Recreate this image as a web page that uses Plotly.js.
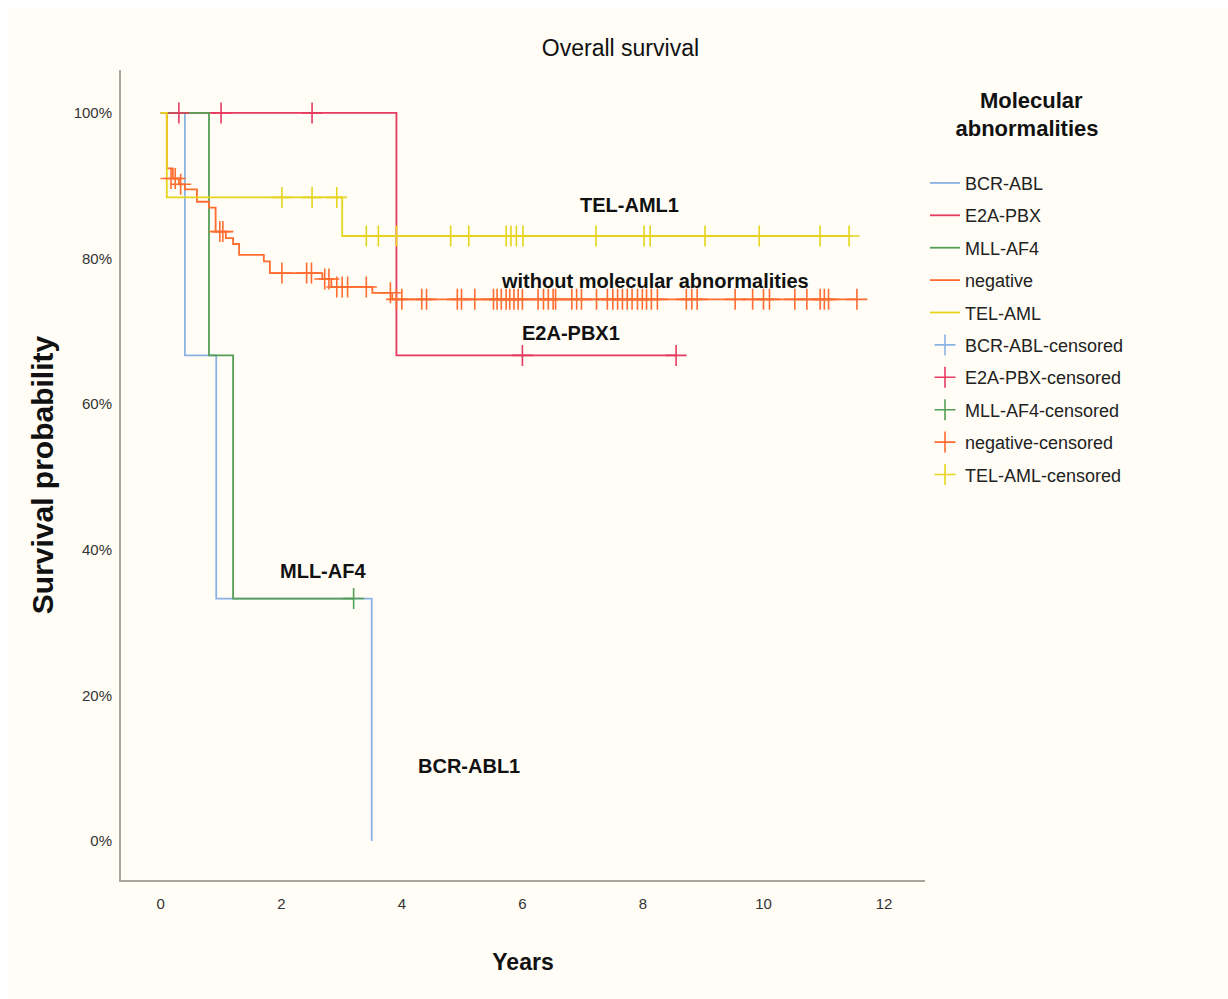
<!DOCTYPE html>
<html>
<head>
<meta charset="utf-8">
<script src="https://cdn.plot.ly/plotly-3.0.1.min.js"></script>
<style>
  html, body { margin: 0; padding: 0; background: #ffffff; }
  #chart { position: absolute; left: 8px; top: 8px; width: 1220px; height: 991px; }
</style>
</head>
<body>
<div id="chart"></div>
<script>
// ---- data (years, survival fraction) ----
const bcrX = [0, 0.4, 0.92, 3.5];
const bcrY = [1, 0.667, 0.333, 0];
const bcrCensX = [null];   // no censored BCR-ABL cases (legend entry only)
const bcrCensY = [null];

const e2aX = [0, 3.91, 8.55];
const e2aY = [1, 0.667, 0.667];
const e2aCensX = [0.3, 1.0, 2.51, 6.0, 8.55];
const e2aCensY = [1, 1, 1, 0.667, 0.667];

const mllX = [0, 0.8, 1.2, 3.2];
const mllY = [1, 0.667, 0.333, 0.333];
const mllCensX = [3.2];
const mllCensY = [0.333];

const negX = [0, 0.1, 0.2, 0.3, 0.4, 0.6, 0.8, 0.91, 1.08, 1.2, 1.3, 1.71, 1.81, 2.68, 2.83, 3.51, 3.84, 11.55];
const negY = [1, 0.924, 0.910, 0.902, 0.895, 0.878, 0.870, 0.837, 0.828, 0.820, 0.805, 0.796, 0.780, 0.772, 0.761, 0.753, 0.744, 0.744];
const negCensX = [0.17, 0.24, 0.33, 0.98, 1.03, 2.01, 2.42, 2.5, 2.72, 2.79, 2.92, 3.01, 3.1, 3.41, 3.81,
  3.91, 4.0, 4.33, 4.41, 4.92, 4.99, 5.21, 5.52, 5.58, 5.65, 5.73, 5.79, 5.86, 5.93, 6.0, 6.26, 6.35, 6.43,
  6.51, 6.55, 6.82, 6.9, 6.98, 7.23, 7.41, 7.5, 7.58, 7.66, 7.74, 7.82, 7.91, 7.99, 8.06, 8.14, 8.24, 8.72,
  8.81, 8.9, 9.53, 9.82, 10.0, 10.1, 10.52, 10.72, 10.94, 11.01, 11.08, 11.55];
const negCensY = [0.910, 0.910, 0.902, 0.837, 0.837, 0.780, 0.780, 0.780, 0.772, 0.772, 0.761, 0.761, 0.761, 0.761, 0.753,
  0.744, 0.744, 0.744, 0.744, 0.744, 0.744, 0.744, 0.744, 0.744, 0.744, 0.744, 0.744, 0.744, 0.744, 0.744, 0.744, 0.744, 0.744,
  0.744, 0.744, 0.744, 0.744, 0.744, 0.744, 0.744, 0.744, 0.744, 0.744, 0.744, 0.744, 0.744, 0.744, 0.744, 0.744, 0.744, 0.744,
  0.744, 0.744, 0.744, 0.744, 0.744, 0.744, 0.744, 0.744, 0.744, 0.744, 0.744, 0.744];

const telX = [0, 0.1, 3.01, 11.45];
const telY = [1, 0.884, 0.831, 0.831];
const telCensX = [2.01, 2.51, 2.92, 3.41, 3.61, 3.91, 4.81, 5.11, 5.73, 5.81, 5.90, 6.01, 7.22, 8.02, 8.12, 9.03, 9.93, 10.94, 11.42];
const telCensY = [0.884, 0.884, 0.884, 0.831, 0.831, 0.831, 0.831, 0.831, 0.831, 0.831, 0.831, 0.831, 0.831, 0.831, 0.831, 0.831, 0.831, 0.831, 0.831];

const xTicks = [0, 2, 4, 6, 8, 10, 12];
const yTicks = [0, 0.2, 0.4, 0.6, 0.8, 1.0];
const yTickText = ['0%', '20%', '40%', '60%', '80%', '100%'];

const groupNames = ['BCR-ABL', 'E2A-PBX', 'MLL-AF4', 'negative', 'TEL-AML'];
const colors = ['#8ab2e4', '#e63a60', '#559e55', '#ff6c30', '#e6d41e'];

const labelText = ['TEL-AML1', 'without molecular abnormalities', 'E2A-PBX1', 'MLL-AF4', 'BCR-ABL1'];
const labelX = [7.78, 8.2, 6.8, 2.69, 5.11];
const labelY = [0.874, 0.769, 0.698, 0.371, 0.103];

// ---- traces ----
const curves = [[bcrX, bcrY], [e2aX, e2aY], [mllX, mllY], [negX, negY], [telX, telY]];
const cens = [[bcrCensX, bcrCensY], [e2aCensX, e2aCensY], [mllCensX, mllCensY], [negCensX, negCensY], [telCensX, telCensY]];

const FONT = '"Liberation Sans", Arial, sans-serif';
const traces = [];
curves.forEach((c, i) => {
  traces.push({
    type: 'scatter', mode: 'lines', x: c[0], y: c[1], name: groupNames[i],
    line: { shape: 'hv', color: colors[i], width: 1.8 },
    legendgroup: 'g' + i, hoverinfo: 'x+y'
  });
});
cens.forEach((c, i) => {
  traces.push({
    type: 'scatter', mode: 'markers', x: c[0], y: c[1], name: groupNames[i] + '-censored',
    marker: { symbol: 'cross-thin-open', size: 15, color: colors[i], line: { color: colors[i], width: 1.6 } },
    legendgroup: 'c' + i, hoverinfo: 'x+y'
  });
});

const annotations = labelText.map((t, i) => ({
  x: labelX[i], y: labelY[i], xref: 'x', yref: 'y', text: t, showarrow: false,
  font: { family: FONT, size: 20, color: '#111111', weight: 'bold' },
  xanchor: 'center', yanchor: 'middle'
}));

const layout = {
  width: 1220, height: 991,
  paper_bgcolor: '#fffdf6', plot_bgcolor: '#fffdf6',
  margin: { l: 113, r: 303, t: 62, b: 119 },
  showlegend: true,
  title: {
    text: 'Overall survival', xref: 'container', yref: 'container', x: 0.502, y: 0.96,
    xanchor: 'center', yanchor: 'middle',
    font: { family: FONT, size: 23, color: '#111111' }
  },
  xaxis: {
    range: [-0.66, 12.68], tickvals: xTicks, showgrid: false, zeroline: false,
    showline: true, linecolor: '#aaa49c', linewidth: 2,
    ticks: 'outside', ticklen: 9, tickcolor: 'rgba(0,0,0,0)',
    tickfont: { family: FONT, size: 15, color: '#333333' },
    title: { text: 'Years', standoff: 43, font: { family: FONT, size: 23, color: '#111111', weight: 'bold' } }
  },
  yaxis: {
    range: [-0.0536, 1.059], tickvals: yTicks, ticktext: yTickText, showgrid: false, zeroline: false,
    showline: true, linecolor: '#aaa49c', linewidth: 2,
    ticks: 'outside', ticklen: 4, tickcolor: 'rgba(0,0,0,0)',
    tickfont: { family: FONT, size: 15, color: '#333333' },
    title: { text: 'Survival probability', standoff: 11, font: { family: FONT, size: 30, color: '#111111', weight: 'bold' } }
  },
  legend: {
    x: 1.0, y: 0.989, xanchor: 'left', yanchor: 'top',
    bgcolor: 'rgba(0,0,0,0)', borderwidth: 0,
    traceorder: 'grouped', tracegroupgap: 6,
    font: { family: FONT, size: 18, color: '#222222' },
    title: { text: '&nbsp;&nbsp;&nbsp;&nbsp;Molecular<br>abnormalities<br>&nbsp;', side: 'top center', font: { family: FONT, size: 22, color: '#111111', weight: 'bold' } }
  },
  annotations: annotations
};

Plotly.newPlot('chart', traces, layout, { displayModeBar: false, staticPlot: true });
</script>
</body>
</html>
